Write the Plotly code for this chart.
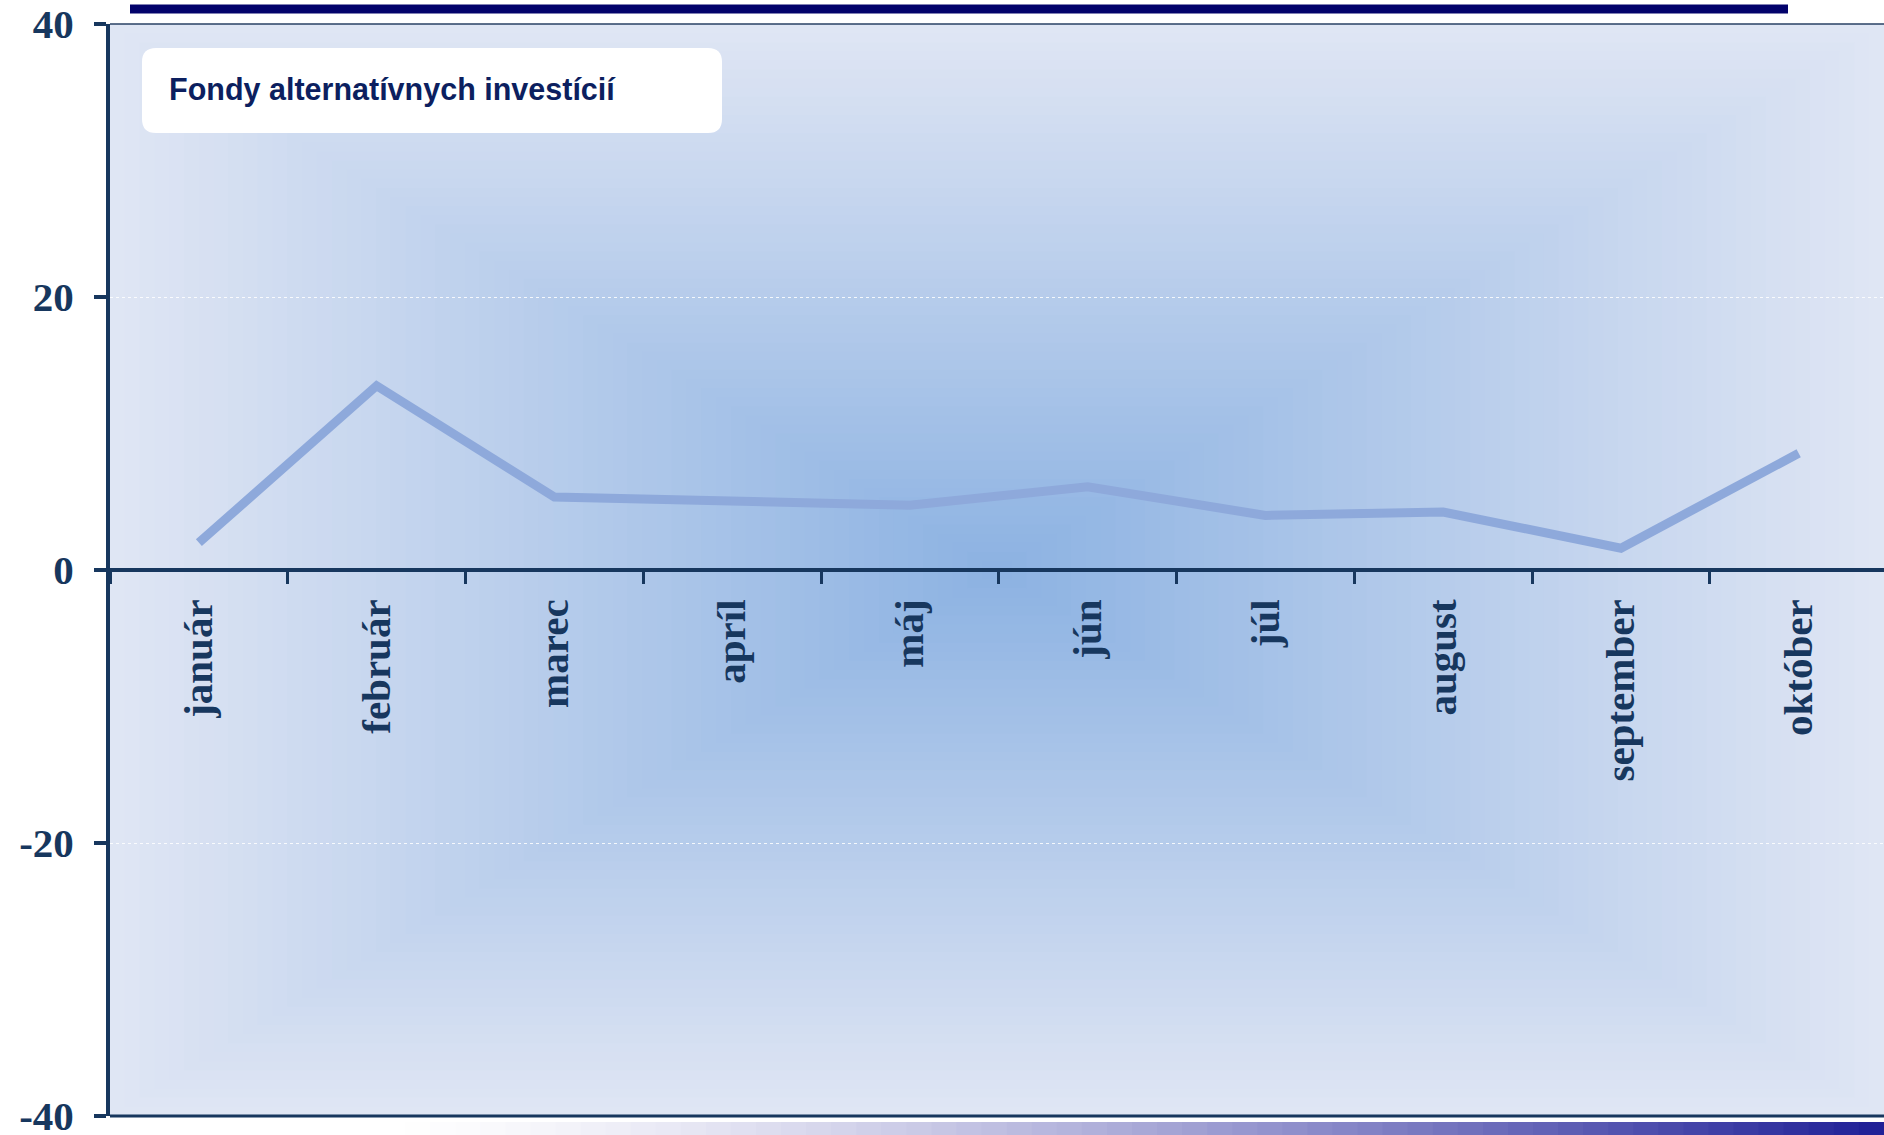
import plotly.graph_objects as go

# ---------------- data ----------------
months = ["január", "február", "marec", "apríl", "máj", "jún", "júl", "august", "september", "október"]
values = [2.0, 13.5, 5.35, 5.05, 4.75, 6.1, 4.0, 4.25, 1.6, 8.55]
series_name = "Fondy alternatívnych investícií"
y_ticks = [-40, -20, 0, 20, 40]
y_range = [-40, 40]

# ---------------- layout constants ----------------
W, H = 1884, 1135
ML, MR, MT, MB = 110, 0, 24, 19
PW, PH = W - ML - MR, H - MT - MB
NAVY = "#17375e"


def px_x(px):
    return (px - ML) / PW


def px_y(py):
    return (H - MB - py) / PH


def mix(c1, c2, f):
    return "rgb(%d,%d,%d)" % tuple(round(a + (b - a) * f) for a, b in zip(c1, c2))


shapes = []

# rectangular "path" gradient of the plot background
edge = (224, 230, 244)
center = (140, 178, 226)
N = 60
for k in range(N):
    s = 1 - k / N
    t = max(s - 0.5 / N, 0)
    shapes.append(dict(
        type="rect", xref="x domain", yref="y domain",
        x0=0.5 - 0.5 * s, x1=0.5 + 0.5 * s, y0=0.5 - 0.5 * s, y1=0.5 + 0.5 * s,
        fillcolor=mix(edge, center, 1 - t), line=dict(width=0), layer="below"))

# frame lines top / bottom
shapes.append(dict(type="line", xref="paper", yref="paper", x0=0, x1=1, y0=1, y1=1,
                   line=dict(color="rgba(40,64,100,0.75)", width=2)))
shapes.append(dict(type="line", xref="paper", yref="paper", x0=0, x1=1, y0=0, y1=0,
                   line=dict(color=NAVY, width=3)))

# rounded white box behind series name
bx0, bx1, by0, by1 = px_x(142), px_x(722), px_y(133), px_y(48)
rx, ry = 14 / PW, 14 / PH
path = (f"M {bx0+rx},{by0} L {bx1-rx},{by0} Q {bx1},{by0} {bx1},{by0+ry} "
        f"L {bx1},{by1-ry} Q {bx1},{by1} {bx1-rx},{by1} L {bx0+rx},{by1} "
        f"Q {bx0},{by1} {bx0},{by1-ry} L {bx0},{by0+ry} Q {bx0},{by0} {bx0+rx},{by0} Z")
shapes.append(dict(type="path", xref="paper", yref="paper", path=path,
                   fillcolor="white", line=dict(width=0)))

# title underline bar (title itself is cropped off)
shapes.append(dict(type="rect", xref="paper", yref="paper",
                   x0=px_x(130), x1=px_x(1788), y0=px_y(13.5), y1=px_y(4.5),
                   fillcolor="#02026b", line=dict(width=0)))

# bottom decorative gradient bar
start, end = 380, W
M = 60
for k in range(M):
    xa = start + (end - start) * k / M
    xb = start + (end - start) * (k + 1) / M + 1
    f = ((k + 0.5) / M) ** 1.4
    shapes.append(dict(type="rect", xref="paper", yref="paper",
                       x0=px_x(xa), x1=px_x(xb), y0=px_y(H), y1=px_y(1122),
                       fillcolor=mix((255, 255, 255), (30, 30, 150), f), line=dict(width=0)))

fig = go.Figure()
fig.add_trace(go.Scatter(
    x=months, y=values, mode="lines", name=series_name,
    line=dict(color="#8EA9DB", width=9), showlegend=False, hoverinfo="skip"))

fig.update_layout(
    width=W, height=H,
    margin=dict(l=ML, r=MR, t=MT, b=MB, pad=0, autoexpand=False),
    paper_bgcolor="white", plot_bgcolor="#dfe5f3",
    shapes=shapes,
    annotations=[dict(
        xref="paper", yref="paper", x=px_x(167), y=px_y(89),
        xanchor="left", yanchor="middle", showarrow=False,
        text="<b>" + series_name + "</b>",
        font=dict(family="Liberation Sans, Arial", size=30.5, color="#0c1f5f"))],
    xaxis=dict(
        type="category", range=[-0.5, len(months) - 0.52],
        anchor="free", position=0.5, side="bottom", automargin=False,
        showline=True, linecolor=NAVY, linewidth=4,
        ticks="outside", tickson="boundaries", ticklen=12, tickwidth=3, tickcolor=NAVY,
        tickangle=-90, ticklabelstandoff=11,
        tickfont=dict(family="Liberation Serif, Times New Roman, serif", size=41,
                      color=NAVY, weight="bold"),
        showgrid=False, zeroline=False, fixedrange=True),
    yaxis=dict(
        range=y_range, tickvals=y_ticks, ticktext=[str(v) for v in y_ticks],
        automargin=False,
        showline=True, linecolor=NAVY, linewidth=4,
        ticks="outside", ticklen=12, tickwidth=4, tickcolor=NAVY,
        ticklabelstandoff=12, ticklabeloverflow="allow",
        tickfont=dict(family="Liberation Serif, Times New Roman, serif", size=41,
                      color=NAVY, weight="bold"),
        showgrid=True, gridcolor="rgba(255,255,255,0.85)", gridwidth=1, griddash="dot",
        zeroline=False, fixedrange=True),
)

post = (
    "document.documentElement.style.overflow='hidden';"
    "document.body.style.margin='0';"
    "document.body.style.overflow='hidden';"
)
fig.write_html("out.html", config={"displayModeBar": False}, post_script=post)
